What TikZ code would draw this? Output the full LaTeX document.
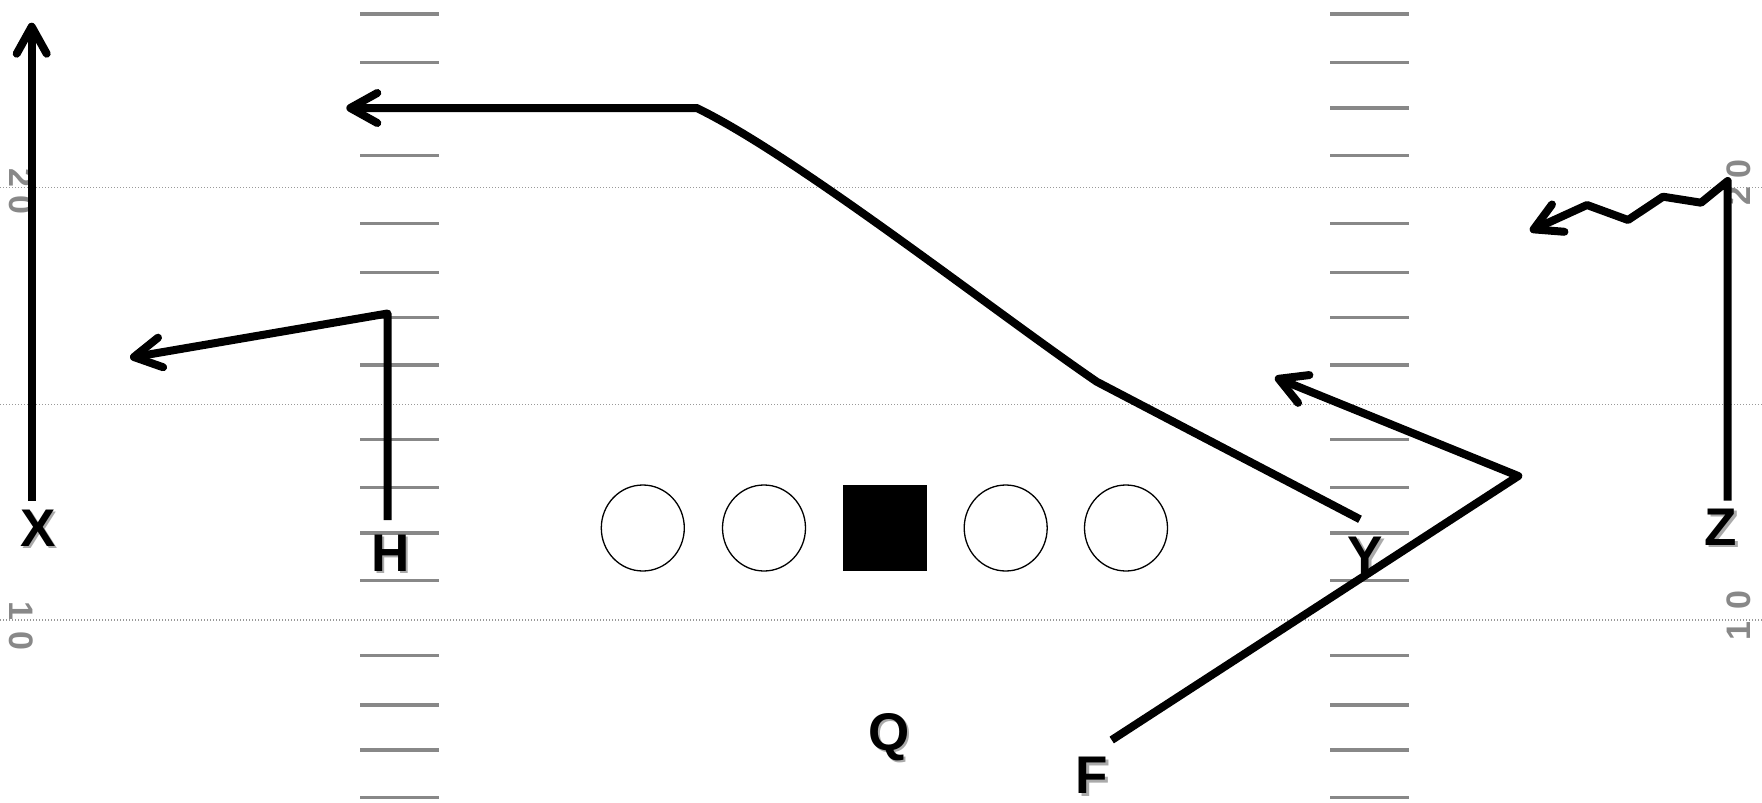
\documentclass[tikz,border=0pt]{standalone}
\usepackage{fontspec}
\setmainfont{Liberation Sans}
\usetikzlibrary{arrows.meta,shapes.geometric}
\definecolor{hashgray}{HTML}{888888}
\definecolor{dotgray}{HTML}{999999}
\definecolor{shadowgray}{HTML}{AAAAAA}
\tikzset{
  yardline/.style={draw=dotgray, line width=1.3pt, dash pattern=on 1.3pt off 1.7pt},
  hashmark/.style={draw=hashgray, line width=3.3pt},
  yardnum/.style={font=\fontsize{34}{34}\selectfont\bfseries, text=hashgray, inner sep=0pt},
  player/.style={ellipse, draw=black, line width=1.3pt, minimum width=83pt, minimum height=86pt, inner sep=0pt},
  centerbox/.style={rectangle, fill=black, minimum width=84pt, minimum height=86pt, inner sep=0pt},
  lbl/.style={font=\fontsize{53}{53}\selectfont\bfseries, text=black, inner sep=0pt},
  lblshadow/.style={lbl, text=shadowgray},
  route/.style={draw=black, line width=8pt, line join=round,
    >={Straight Barb[length=27pt,width=30pt,round]}},
}
\begin{document}
\begin{tikzpicture}[x=1pt,y=-1pt]
\useasboundingbox (0,0) rectangle (1762,803);
\fill[white] (0,0) rectangle (1762,803);
% yard lines
\draw[yardline] (0,187.7) -- (1762,187.7);
\draw[yardline] (0,404.3) -- (1762,404.3);
\draw[yardline] (0,620) -- (1762,620);
% hash marks
\foreach \yy in {14,62.5,108,155.3,223.7,272.7,317.7,365,439.3,487.7,533,580.8,655.8,705,750,797.7}{
  \draw[hashmark] (360,\yy) -- (439,\yy);
  \draw[hashmark] (1330,\yy) -- (1409,\yy);
}
% yard numbers
\node[yardnum, rotate=-90] (l2) at (21,178) {2};
\node[yardnum, rotate=-90] (l20) at (21,205) {0};
\node[yardnum, rotate=-90] (l1) at (21,611) {1};
\node[yardnum, rotate=-90] (l10) at (21,640.5) {0};
\node[yardnum, rotate=90] (r20) at (1738.5,169) {0};
\node[yardnum, rotate=90] (r2) at (1738.5,196.5) {2};
\node[yardnum, rotate=90] (r10) at (1738.5,600.5) {0};
\node[yardnum, rotate=90] (r1) at (1738.5,631) {1};
% line
\node[player] (lt) at (642.8,528) {};
\node[player] (lg) at (764,528) {};
\node[centerbox] (c) at (885,527.5) {};
\node[player] (rg) at (1005.7,528) {};
\node[player] (rt) at (1126,528) {};
% labels
\node[lblshadow] (Xs) at (40.5,530.5) {X};
\node[lbl] (X) at (38,528) {X};
\node[lblshadow] (Hs) at (393,555.5) {H};
\node[lbl] (H) at (390.5,553) {H};
\node[lblshadow] (Ys) at (1368,557.5) {Y};
\node[lbl] (Y) at (1365.5,555) {Y};
\node[lblshadow] (Zs) at (1723.5,529.5) {Z};
\node[lbl] (Z) at (1721,527) {Z};
\node[lblshadow] (Qs) at (891.5,739.5) {Q};
\node[lbl] (Q) at (889,737) {Q};
\node[lblshadow] (Fs) at (1094.5,778) {F};
\node[lbl] (F) at (1092,775.5) {F};
% route points
\coordinate (x0) at (31.7,500.7);
\coordinate (x1) at (31.7,22.7);
\coordinate (h0) at (387.5,520);
\coordinate (h1) at (387.5,313.5);
\coordinate (h2) at (130,357.7);
\coordinate (y0) at (1360,519.3);
\coordinate (y1) at (1096.7,381.7);
\coordinate (y2) at (696.7,108);
\coordinate (y3) at (346.3,108);
\coordinate (f0) at (1111.7,740);
\coordinate (f1) at (1518.3,476);
\coordinate (f2) at (1275,377.3);
\coordinate (z0) at (1727.7,500.7);
\coordinate (z1) at (1727.7,181);
\coordinate (z2) at (1701,202.7);
\coordinate (z3) at (1663,196.7);
\coordinate (z4) at (1628,220);
\coordinate (z5) at (1587,205);
\coordinate (z6) at (1530,231);
% routes
\draw[route,->] (x0) -- (x1);
\draw[route,->] (h0) -- (h1) -- (h2);
\draw[route,->] (y0) -- (y1) .. controls (990,308.5) and (796,156) .. (y2) -- (y3);
\draw[route,->] (f0) -- (f1) -- (f2);
\draw[route,->] (z0) -- (z1) -- (z2) -- (z3) -- (z4) -- (z5) -- (z6);
\end{tikzpicture}
\end{document}
